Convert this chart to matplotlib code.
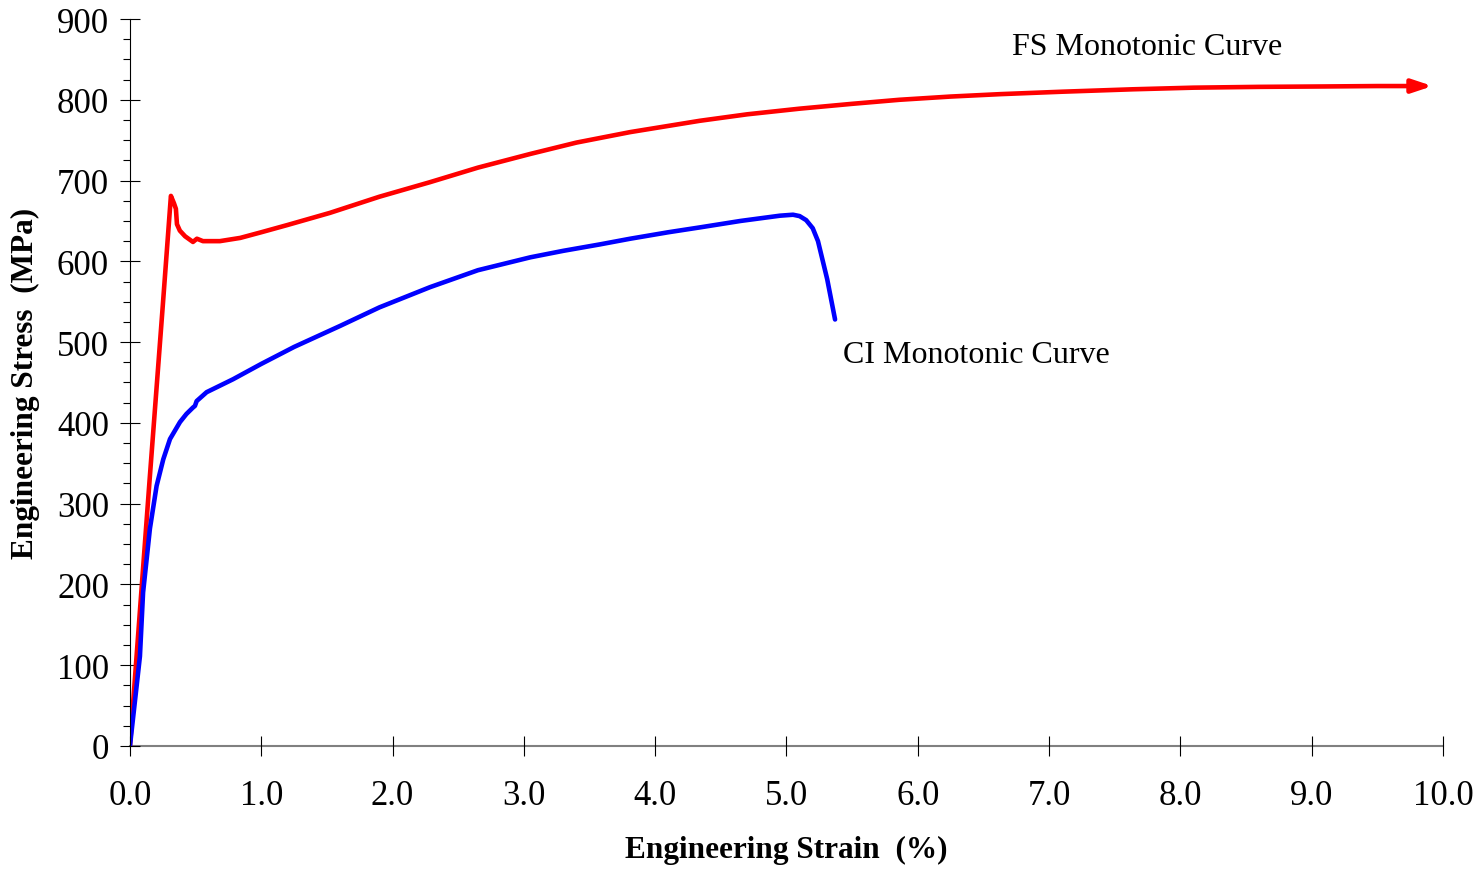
import numpy as np
import matplotlib
matplotlib.use("Agg")
import matplotlib.pyplot as plt
from matplotlib.ticker import MultipleLocator, FormatStrFormatter

# FS monotonic curve (strain %, stress MPa)
fs_strain = [0.0, 0.05, 0.15, 0.25, 0.312, 0.335, 0.35, 0.358, 0.38, 0.42, 0.48,
             0.51, 0.556, 0.685, 0.84, 1.0, 1.2, 1.523, 1.9, 2.285, 2.65, 3.05,
             3.4, 3.81, 4.34, 4.7, 5.1, 5.5, 5.86, 6.25, 6.63, 7.1, 7.64, 8.1,
             8.6, 9.1, 9.5, 9.76]
fs_stress = [0, 110, 330, 545, 681, 672, 665, 646, 638, 631, 624,
             628, 625, 625, 629, 636, 645, 660, 680, 698, 716, 733,
             747, 760, 774, 782, 789, 795, 800, 804, 807, 810, 813, 815,
             816, 816.5, 817, 817]
fs_arrow_tip = (9.92, 817)

# CI monotonic curve
ci_strain = [0.0, 0.076, 0.10, 0.152, 0.203, 0.254, 0.305, 0.381, 0.43, 0.48,
             0.495, 0.508, 0.584, 0.785, 1.0, 1.25, 1.6, 1.9, 2.285, 2.65, 3.05,
             3.3, 3.58, 3.81, 4.1, 4.34, 4.65, 4.95, 5.05, 5.1, 5.15, 5.2,
             5.24, 5.31, 5.37]
ci_stress = [0, 111, 190, 269, 322, 355, 380, 401, 411, 419,
             421, 427, 438, 454, 473, 494, 520, 543, 568, 589, 605,
             613, 621, 628, 636, 642, 650, 656.5, 657.7, 656, 651, 641,
             625, 578, 528]

plt.rcParams['font.family'] = ['Liberation Serif', 'DejaVu Serif']

fig = plt.figure(figsize=(14.8, 8.7), dpi=100)
ax = fig.add_axes([0.0878, 0.1414, 0.8872, 0.8356])

ax.plot(fs_strain, fs_stress, color='#ff0000', lw=3.3, solid_joinstyle='round',
        solid_capstyle='round')
ax.annotate('', xy=fs_arrow_tip, xytext=(fs_strain[-1], fs_stress[-1]),
            arrowprops=dict(arrowstyle='-|>,head_length=1.2,head_width=0.4',
                            color='#ff0000', lw=3.3, shrinkA=0, shrinkB=0))
ax.plot(ci_strain, ci_stress, color='#0000ff', lw=3.3, solid_joinstyle='round',
        solid_capstyle='round')

ax.text(6.72, 866, 'FS Monotonic Curve', fontsize=23, va='center', ha='left')
ax.text(5.43, 485, 'CI Monotonic Curve', fontsize=23, va='center', ha='left')

ax.set_xlim(0, 10)
ax.set_ylim(0, 900)
ax.xaxis.set_major_locator(MultipleLocator(1))
ax.xaxis.set_major_formatter(FormatStrFormatter('%.1f'))
ax.yaxis.set_major_locator(MultipleLocator(100))
ax.yaxis.set_minor_locator(MultipleLocator(25))

for s in ['top', 'right']:
    ax.spines[s].set_visible(False)
ax.spines['left'].set_color('black')
ax.spines['left'].set_linewidth(0.8)
ax.spines['bottom'].set_color('#808080')
ax.spines['bottom'].set_linewidth(1.5)
ax.spines['bottom'].set_zorder(0)

ax.tick_params(axis='x', direction='inout', length=14, width=0.8, labelsize=25, pad=17)
ax.tick_params(axis='y', which='major', direction='inout', length=14, width=0.8,
               labelsize=25, pad=8)
ax.tick_params(axis='y', which='minor', direction='out', length=5, width=0.8)

ax.set_xlabel('Engineering Strain  (%)', fontsize=22.5, fontweight='bold', labelpad=16)
ax.set_ylabel('Engineering Stress  (MPa)', fontsize=22.5, fontweight='bold', labelpad=12)

fig.savefig('out.png', dpi=100)
